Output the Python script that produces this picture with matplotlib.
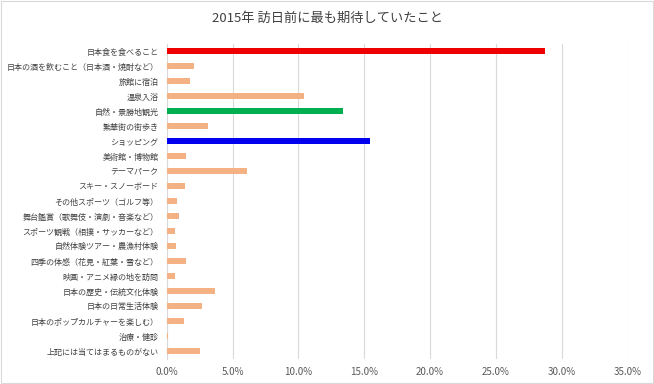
import matplotlib
matplotlib.use("Agg")
import matplotlib.pyplot as plt
from matplotlib.ticker import PercentFormatter, MultipleLocator

plt.rcParams['font.family'] = ['Noto Sans CJK JP', 'DejaVu Sans']

categories = [
    "日本食を食べること",
    "日本の酒を飲むこと（日本酒・焼酎など）",
    "旅館に宿泊",
    "温泉入浴",
    "自然・景勝地観光",
    "繁華街の街歩き",
    "ショッピング",
    "美術館・博物館",
    "テーマパーク",
    "スキー・スノーボード",
    "その他スポーツ（ゴルフ等）",
    "舞台鑑賞（歌舞伎・演劇・音楽など）",
    "スポーツ観戦（相撲・サッカーなど）",
    "自然体験ツアー・農漁村体験",
    "四季の体感（花見・紅葉・雪など）",
    "映画・アニメ縁の地を訪問",
    "日本の歴史・伝統文化体験",
    "日本の日常生活体験",
    "日本のポップカルチャーを楽しむ）",
    "治療・健診",
    "上記には当てはまるものがない",
]
values = [28.7, 2.1, 1.8, 10.4, 13.4, 3.1, 15.4, 1.5, 6.1, 1.4, 0.8,
          0.9, 0.6, 0.7, 1.5, 0.6, 3.7, 2.7, 1.3, 0.1, 2.5]
highlight = {"日本食を食べること": "#EE0000",
             "自然・景勝地観光": "#00B050",
             "ショッピング": "#0000EE"}
base_color = "#F4B183"

colors = [highlight.get(c, base_color) for c in categories]

fig = plt.figure(figsize=(6.54, 3.84), dpi=100)
ax = fig.add_axes([166.7 / 654, 1 - 358.5 / 384, (627.7 - 166.7) / 654, 315 / 384])

pos = list(range(len(categories)))
ax.barh(pos, values, height=0.36, color=colors, zorder=3)
ax.set_yticks(pos)
ax.set_yticklabels(categories, fontsize=5.8, color="#404040")
ax.set_ylim(len(categories) - 0.5, -0.5)
ax.set_xlim(0, 35)
ax.xaxis.set_major_locator(MultipleLocator(5))
ax.xaxis.set_major_formatter(PercentFormatter(decimals=1))
ax.tick_params(axis='x', labelsize=7, colors="#595959", length=0, pad=6)
ax.tick_params(axis='y', length=0, pad=6)
ax.grid(axis='x', color="#D9D9D9", linewidth=0.8, zorder=0)
for s in ["top", "right", "bottom"]:
    ax.spines[s].set_visible(False)
ax.spines["left"].set_color("#D9D9D9")
ax.spines["left"].set_linewidth(0.8)

fig.text(0.5, 1 - 18 / 384, "2015年 訪日前に最も期待していたこと", ha="center", va="center",
         fontsize=9.5, color="#404040")

# chart border
fig.patches.append(plt.Rectangle((0.002, 0.003), 0.996, 0.994, transform=fig.transFigure,
                                 fill=False, edgecolor="#D9D9D9", linewidth=0.8))

fig.savefig("out.png", dpi=100)
